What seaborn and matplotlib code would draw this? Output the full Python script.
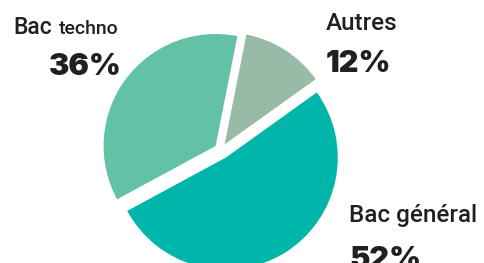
import matplotlib
matplotlib.use('Agg')
import matplotlib.pyplot as plt
import seaborn as sns

# data
labels = ['Autres', 'Bac techno', 'Bac général']
values = [12, 36, 52]
pct_labels = ['12%', '36%', '52%']
colors = ['#97bba6', '#63c1a6', '#00b5a9']

sns.set_theme(style='white')
plt.rcParams['font.family'] = ['Roboto', 'DejaVu Sans']

W, H = 485, 263
fig = plt.figure(figsize=(W / 100, H / 100), dpi=100)
ax = fig.add_axes([0, 0, 1, 1])

ax.pie(values, colors=sns.color_palette(colors), startangle=35.6,
       counterclock=True, explode=[0.06, 0.06, 0.08],
       wedgeprops=dict(edgecolor='white', linewidth=0))

# pie centre at pixel (221, 150), radius 112 px
cx, cy, r = 221, 150, 112
ax.set_xlim(-cx / r, (W - cx) / r)
ax.set_ylim(-(H - cy) / r, cy / r)
ax.set_aspect('auto')
ax.set_axis_off()


def px(x, y):
    return x / W, 1 - y / H


txt = '#231f20'
lab = dict(fontsize=17.5, fontweight='medium', color=txt, va='baseline')
pct = dict(fontsize=22, fontweight='black', family=['Inter', 'DejaVu Sans'],
           color=txt, va='baseline')

fig.text(*px(13, 34), 'Bac', ha='left', fontsize=16.5, fontweight='medium',
         color=txt, va='baseline')
fig.text(*px(59, 34), 'techno', fontsize=14, fontweight='medium', color=txt,
         ha='left', va='baseline')
fig.text(*px(122, 75), pct_labels[1], ha='right', **pct)

fig.text(*px(326, 30), labels[0], ha='left', **lab)
fig.text(*px(326, 72), pct_labels[0], ha='left', **pct)

fig.text(*px(349, 222), labels[2], ha='left', **lab)
fig.text(*px(349, 268), pct_labels[2], ha='left', **pct)

fig.savefig('out.png', dpi=100, facecolor='white')
